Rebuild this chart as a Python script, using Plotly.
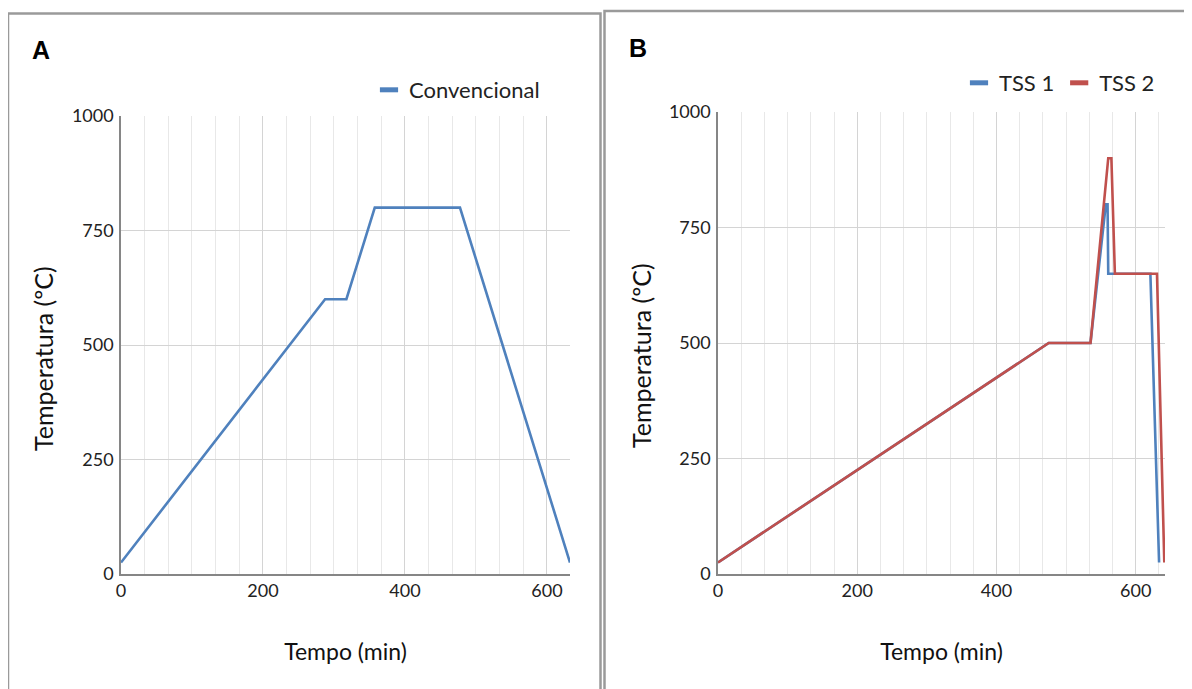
import plotly.graph_objects as go

# ---- data ----
conv_time = [0, 287.5, 317.5, 357.5, 477.5, 632.5]
conv_temp = [25, 600, 600, 800, 800, 25]

tss1_time = [0, 475, 535, 557, 559.5, 560.5, 621, 633.5]
tss1_temp = [25, 500, 500, 800, 800, 650, 650, 25]

tss2_time = [0, 475, 535, 560.5, 565, 570, 630.5, 641]
tss2_temp = [25, 500, 500, 900, 900, 650, 650, 25]

x_ticks = [0, 200, 400, 600]
y_ticks = [0, 250, 500, 750, 1000]

x_title = "Tempo (min)"
y_title = "Temperatura (ºC)"

BLUE = "#4F81BD"
RED = "#C0504D"
FONT = "Lato"
W, H = 1192, 689
OFF = 8  # page body margin in the browser

fig = go.Figure()
# data lines
fig.add_trace(go.Scatter(x=conv_time, y=conv_temp, mode="lines", name="Convencional",
                         line=dict(color=BLUE, width=2.6), xaxis="x", yaxis="y",
                         showlegend=False, legendgroup="conv"))
fig.add_trace(go.Scatter(x=tss1_time, y=tss1_temp, mode="lines", name="TSS 1",
                         line=dict(color=BLUE, width=2.6), xaxis="x2", yaxis="y2",
                         showlegend=False, legendgroup="tss1"))
fig.add_trace(go.Scatter(x=tss2_time, y=tss2_temp, mode="lines", name="TSS 2",
                         line=dict(color=RED, width=2.6), xaxis="x2", yaxis="y2",
                         showlegend=False, legendgroup="tss2"))


# legend entries (short thick dash symbol like the original)
def legend_entry(name, color, xa, ya, leg, group):
    return go.Scatter(x=[None], y=[None], mode="markers", name=name, xaxis=xa, yaxis=ya,
                      legend=leg, legendgroup=group,
                      marker=dict(symbol="line-ew", size=13, color=color,
                                  line=dict(width=5, color=color)))


fig.add_trace(legend_entry("Convencional", BLUE, "x", "y", "legend", "conv"))
fig.add_trace(legend_entry("TSS 1", BLUE, "x2", "y2", "legend2", "tss1"))
fig.add_trace(legend_entry("TSS 2", RED, "x2", "y2", "legend2", "tss2"))


def px_x(p):
    return (p - OFF) / W


def px_y(p):
    return 1 - (p - OFF) / H


def xaxis(dom, rng, anchor):
    return dict(domain=dom, range=rng, anchor=anchor, tickvals=x_ticks, automargin=False,
                showgrid=True, gridcolor="#d4d4d4", gridwidth=1,
                minor=dict(dtick=200 / 6, tick0=0, showgrid=True, gridcolor="#e8e8e8", gridwidth=1),
                showline=True, linecolor="#868686", linewidth=1.5, ticks="",
                zeroline=False, tickfont=dict(family=FONT, size=18, color="#222"),
                title=dict(text=x_title, font=dict(family=FONT, size=23, color="#111"), standoff=44),
                fixedrange=True)


def yaxis(dom, anchor):
    return dict(domain=dom, range=[0, 1000], anchor=anchor, tickvals=y_ticks, automargin=False,
                showgrid=True, gridcolor="#d4d4d4", gridwidth=1,
                showline=True, linecolor="#868686", linewidth=1.5, ticks="",
                zeroline=False, tickfont=dict(family=FONT, size=18, color="#222"),
                ticklabelstandoff=2, fixedrange=True)


fig.update_layout(
    width=W, height=H,
    margin=dict(l=0, r=0, t=0, b=0, pad=0, autoexpand=False),
    paper_bgcolor="white", plot_bgcolor="white",
    font=dict(family=FONT, color="#222"),
    xaxis=xaxis([px_x(121), px_x(570)], [0, 632.5], "y"),
    yaxis=yaxis([px_y(574), px_y(116)], "x"),
    xaxis2=xaxis([px_x(718), px_x(1165)], [0, 642], "y2"),
    yaxis2=yaxis([px_y(574), px_y(112)], "x2"),
    legend=dict(x=px_x(545), y=px_y(90), xanchor="right", yanchor="middle",
                orientation="h", font=dict(family=FONT, size=22, color="#222"),
                itemwidth=30, bgcolor="rgba(0,0,0,0)"),
    legend2=dict(x=px_x(1160), y=px_y(83), xanchor="right", yanchor="middle",
                 orientation="h", font=dict(family=FONT, size=22, color="#222"),
                 itemwidth=30, bgcolor="rgba(0,0,0,0)"),
    showlegend=True,
)

# y-axis titles (placed like the original, slightly below the plot centre)
fig.add_annotation(text=y_title, xref="paper", yref="paper", x=px_x(43), y=px_y(359),
                   xanchor="center", yanchor="middle", textangle=-90, showarrow=False,
                   font=dict(family=FONT, size=25, color="#111"))
fig.add_annotation(text=y_title, xref="paper", yref="paper", x=px_x(641), y=px_y(356),
                   xanchor="center", yanchor="middle", textangle=-90, showarrow=False,
                   font=dict(family=FONT, size=25, color="#111"))

# panel frames
fig.add_shape(type="rect", xref="paper", yref="paper",
              x0=px_x(8), x1=px_x(600.5), y0=-0.05, y1=px_y(13.5),
              line=dict(color="#9a9a9a", width=2.5), fillcolor="rgba(0,0,0,0)", layer="below")
fig.add_shape(type="rect", xref="paper", yref="paper",
              x0=px_x(604.5), x1=1.05, y0=-0.05, y1=px_y(11),
              line=dict(color="#9a9a9a", width=2.5), fillcolor="rgba(0,0,0,0)", layer="below")

# panel letters
fig.add_annotation(text="<b>A</b>", xref="paper", yref="paper", x=px_x(41), y=px_y(50),
                   xanchor="center", yanchor="middle",
                   showarrow=False, font=dict(family="Liberation Sans", size=25, color="#000"))
fig.add_annotation(text="<b>B</b>", xref="paper", yref="paper", x=px_x(638), y=px_y(48),
                   xanchor="center", yanchor="middle",
                   showarrow=False, font=dict(family="Liberation Sans", size=25, color="#000"))

fig.write_html("out.html")
